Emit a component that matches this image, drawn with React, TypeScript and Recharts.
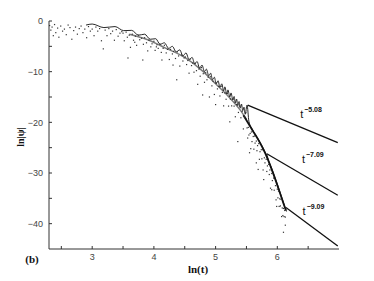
import { ComposedChart, Line, Scatter, XAxis, YAxis } from "recharts";

const xTicks = [2.5, 3, 3.5, 4, 4.5, 5, 5.5, 6, 6.5];
const yTicks = [-40, -35, -30, -25, -20, -15, -10, -5, 0];

// upper edge of ln|psi| with its arches, then the steep core
const envelope: [number, number][] = [
  [2.9, -0.8], [3.0, -0.6], [3.19, -1.3], [3.37, -1.1], [3.51, -1.9], [3.64, -1.85],
  [3.75, -2.8], [3.85, -2.6], [3.94, -3.6], [4.03, -3.5], [4.1, -4.6], [4.17, -4.3],
  [4.24, -5.4], [4.3, -5.0], [4.36, -6.1], [4.42, -5.7], [4.47, -6.9], [4.52, -6.3],
  [4.57, -7.6], [4.62, -7.2], [4.66, -8.4], [4.7, -8.0], [4.74, -9.3], [4.78, -8.7],
  [4.82, -10.0], [4.85, -9.5], [4.89, -10.8], [4.92, -10.3], [4.95, -11.6], [4.98, -11.1],
  [5.01, -12.4], [5.04, -11.8], [5.07, -13.1], [5.1, -12.4], [5.13, -13.8], [5.15, -13.0],
  [5.18, -14.4], [5.2, -13.6], [5.23, -15.0], [5.25, -14.2], [5.28, -15.6], [5.3, -14.9],
  [5.32, -16.2], [5.34, -15.4], [5.36, -16.7], [5.38, -15.9], [5.4, -17.2], [5.42, -16.4],
  [5.44, -17.7], [5.46, -17.0], [5.48, -18.4], [5.51, -16.6], [5.54, -19.8], [5.6, -21.5],
  [5.7, -23.5], [5.78, -25.3], [5.81, -26.1], [5.83, -26.4], [5.86, -27.6], [5.9, -28.8],
  [6.0, -32.2], [6.08, -35.1], [6.12, -36.6], [6.15, -37.6],
];

// dense band just under the arches
const band: [number, number][] = [
  [3.6, -2.6], [3.9, -3.7], [4.2, -5.4], [4.5, -7.2], [4.8, -10.0], [5.0, -12.4],
  [5.2, -14.8], [5.4, -17.6], [5.5, -19.4],
];

// thick core of the steep decay
const core: [number, number][] = [
  [5.45, -18.6], [5.5, -19.6], [5.6, -21.6], [5.7, -23.6], [5.8, -26.0],
  [5.9, -29.0], [6.0, -32.4], [6.1, -36.0], [6.14, -37.4],
];

// scattered points below the envelope
const cloud: [number, number][] = [
  [2.31, -0.9], [2.33, -1.8], [2.35, -1.2], [2.37, -2.9], [2.39, -0.7], [2.41, -2.3], [2.44, -1.4],
  [2.46, -3.2], [2.49, -1.0], [2.52, -2.0], [2.55, -1.6], [2.58, -2.7], [2.61, -0.8], [2.64, -1.3],
  [2.67, -3.6], [2.7, -1.9], [2.73, -1.2], [2.76, -2.6], [2.79, -1.5], [2.82, -1.0], [2.85, -2.3],
  [2.88, -1.6], [2.91, -3.3], [2.94, -1.1], [2.97, -2.0], [3.0, -1.6], [3.03, -2.9], [3.06, -1.2],
  [3.09, -2.0], [3.12, -1.5], [3.15, -3.9], [3.18, -5.5], [3.21, -1.8], [3.24, -2.9], [3.27, -1.5],
  [3.3, -2.5], [3.33, -2.0], [3.36, -3.8], [3.39, -1.7], [3.42, -3.0], [3.45, -2.4], [3.48, -2.1],
  [3.5, -2.4], [3.52, -3.9], [3.55, -2.2], [3.57, -3.2], [3.58, -7.3], [3.6, -2.8], [3.62, -5.2],
  [3.65, -2.6], [3.67, -3.8], [3.69, -4.2], [3.7, -3.0], [3.72, -4.8], [3.75, -2.8], [3.77, -3.7],
  [3.8, -3.4], [3.82, -7.7], [3.83, -4.6], [3.85, -3.3], [3.88, -4.3], [3.9, -5.9], [3.92, -3.8],
  [3.95, -5.1], [3.97, -4.5], [4.0, -4.0], [4.02, -5.8], [4.04, -5.1], [4.05, -4.7], [4.07, -5.4],
  [4.1, -4.6], [4.12, -6.2], [4.13, -7.7], [4.15, -5.4], [4.17, -4.8], [4.2, -6.3], [4.22, -5.6],
  [4.25, -7.6], [4.27, -5.6], [4.3, -6.5], [4.31, -8.7], [4.32, -6.0], [4.35, -7.4], [4.37, -11.6],
  [4.38, -6.1], [4.4, -6.9], [4.42, -8.9], [4.45, -6.7], [4.47, -7.9], [4.49, -7.3],
  [4.51, -7.1], [4.53, -8.6], [4.55, -7.8], [4.57, -10.3], [4.59, -7.5], [4.61, -8.8], [4.63, -8.3],
  [4.65, -10.1], [4.67, -8.4], [4.69, -9.8], [4.71, -12.5], [4.73, -9.5], [4.75, -10.9], [4.77, -9.2],
  [4.79, -14.6], [4.8, -10.4], [4.82, -12.1], [4.84, -10.2], [4.86, -11.6], [4.88, -11.1],
  [4.9, -15.0], [4.92, -11.0], [4.94, -12.8], [4.96, -11.9], [4.98, -14.5], [5.0, -16.5],
  [5.01, -12.2], [5.03, -13.4], [5.05, -12.9], [5.07, -14.8], [5.09, -12.9], [5.11, -14.1],
  [5.13, -16.75], [5.15, -14.2], [5.17, -15.45], [5.19, -14.3], [5.21, -16.8], [5.23, -19.9],
  [5.24, -15.4], [5.26, -16.75], [5.28, -15.4], [5.3, -16.8], [5.32, -18.9], [5.34, -16.5],
  [5.36, -23.8], [5.37, -18.05], [5.39, -16.8], [5.41, -19.1], [5.43, -17.85], [5.45, -21.3],
  [5.47, -18.95], [5.49, -18.1],
  [5.51, -21.1], [5.52, -23.1], [5.53, -21.0], [5.54, -22.5], [5.55, -26.0], [5.56, -22.2],
  [5.57, -25.2], [5.58, -21.9], [5.59, -23.8], [5.61, -22.8], [5.62, -25.3], [5.63, -22.7],
  [5.64, -24.1], [5.66, -28.0], [5.66, -23.7], [5.67, -25.6], [5.68, -24.6], [5.69, -29.3],
  [5.7, -24.2], [5.71, -27.3], [5.72, -25.8], [5.74, -25.4], [5.75, -27.2], [5.76, -25.4],
  [5.77, -29.4], [5.78, -31.3], [5.79, -27.0], [5.8, -28.0], [5.82, -27.3], [5.83, -29.7],
  [5.84, -28.6], [5.86, -28.3], [5.87, -30.3], [5.88, -29.4], [5.89, -33.0], [5.91, -33.3],
  [5.91, -30.1], [5.92, -31.5], [5.94, -31.0], [5.95, -33.4], [5.97, -32.5], [5.98, -35.3],
  [5.99, -36.6], [6.0, -33.2], [6.01, -34.9], [6.02, -33.6], [6.03, -36.6], [6.04, -35.1],
  [6.05, -36.5], [6.06, -35.2], [6.07, -38.6], [6.08, -36.9], [6.09, -38.4], [6.1, -41.7],
  [6.1, -37.0], [6.11, -38.6], [6.12, -37.4], [6.13, -38.7], [6.13, -40.3],
];

const fit508: [number, number][] = [[5.52, -16.6], [6.98, -24.0]];
const fit709: [number, number][] = [[5.83, -26.2], [6.98, -34.4]];
const fit909: [number, number][] = [[6.14, -36.8], [6.98, -44.4]];

const fitLabels = [
  { x: 6.37, y: -19.1, exp: "−5.08" },
  { x: 6.4, y: -28.1, exp: "−7.09" },
  { x: 6.41, y: -38.2, exp: "−9.09" },
];

const toPts = (arr: [number, number][]) => arr.map(([x, y]) => ({ x, y }));

const axisColor = "#333";
const tickStyle = { fontSize: 9, fill: "#444", fontFamily: "Liberation Sans" };

function XTitle({ viewBox }: any) {
  const { x, y, width } = viewBox;
  return (
    <g fontFamily="Liberation Serif" fontWeight="bold" fontSize={11} fill="#111">
      <text x={x + width / 2 + 4} y={y + 24} textAnchor="middle">ln(t)</text>
      <text x={x - 17} y={y + 14} textAnchor="middle">(b)</text>
    </g>
  );
}

function YTitle({ viewBox }: any) {
  const { x, y, height } = viewBox;
  const cx = x + 24;
  const cy = y + height / 2 + 2;
  return (
    <text
      x={cx}
      y={cy}
      transform={`rotate(-90 ${cx} ${cy})`}
      textAnchor="middle"
      fontFamily="Liberation Serif"
      fontWeight="bold"
      fontSize={10}
      fill="#111"
    >
      ln|ψ|
    </text>
  );
}

const Dot = (p: any) => <rect x={p.cx - 0.6} y={p.cy - 0.6} width={1.2} height={1.2} fill="#333" />;

const PowerLabel = (p: any) => (
  <text x={p.cx} y={p.cy} fontFamily="Liberation Sans" fill="#111" stroke="none">
    <tspan fontSize={11} fill="#111">t</tspan>
    <tspan fontSize={7} fontWeight="bold" fill="#111" dx={1} dy={-6}>{p.payload.exp}</tspan>
  </text>
);

export default function App() {
  return (
    <div style={{ position: "absolute", left: 0, top: 0 }}>
      <ComposedChart width={374} height={281} margin={{ top: 21, right: 35, bottom: 0, left: 0 }}>
        <XAxis
          dataKey="x"
          type="number"
          domain={[2.3, 7]}
          allowDataOverflow
          ticks={xTicks}
          interval={0}
          height={32}
          tickSize={-3}
          tickMargin={8}
          tick={tickStyle}
          tickFormatter={(v: number) => (Number.isInteger(v) ? String(v) : "")}
          axisLine={{ stroke: axisColor }}
          tickLine={{ stroke: axisColor }}
          label={<XTitle />}
        />
        <XAxis
          xAxisId="top"
          orientation="top"
          dataKey="x"
          type="number"
          domain={[2.3, 7]}
          allowDataOverflow
          ticks={xTicks}
          interval={0}
          height={0}
          tickSize={-3}
          tickFormatter={() => ""}
          axisLine={{ stroke: axisColor }}
          tickLine={{ stroke: axisColor }}
        />
        <YAxis
          dataKey="y"
          type="number"
          domain={[-45, 0]}
          allowDataOverflow
          ticks={yTicks}
          interval={0}
          width={49}
          tickSize={-3}
          tickMargin={9}
          tick={tickStyle}
          tickFormatter={(v: number) => (v % 10 === 0 ? (v < 0 ? "−" + Math.abs(v) : "0") : "")}
          axisLine={{ stroke: axisColor }}
          tickLine={{ stroke: axisColor }}
          label={<YTitle />}
        />
        <YAxis
          yAxisId="right"
          orientation="right"
          dataKey="y"
          type="number"
          domain={[-45, 0]}
          allowDataOverflow
          ticks={yTicks}
          interval={0}
          width={0}
          tickSize={-3}
          tickFormatter={() => ""}
          axisLine={{ stroke: axisColor }}
          tickLine={{ stroke: axisColor }}
        />
        <Scatter data={toPts(cloud)} shape={Dot} isAnimationActive={false} />
        <Line data={toPts(band)} dataKey="y" type="monotone" stroke="#444" strokeWidth={1.5} strokeOpacity={0.7} dot={false} isAnimationActive={false} />
        <Line data={toPts(core)} dataKey="y" type="monotone" stroke="#111" strokeWidth={1.8} dot={false} isAnimationActive={false} />
        <Line data={toPts(envelope)} dataKey="y" type="monotone" stroke="#111" strokeWidth={0.9} dot={false} isAnimationActive={false} />
        <Line data={toPts(fit508)} dataKey="y" stroke="#111" strokeWidth={1.3} dot={false} isAnimationActive={false} />
        <Line data={toPts(fit709)} dataKey="y" stroke="#111" strokeWidth={1.3} dot={false} isAnimationActive={false} />
        <Line data={toPts(fit909)} dataKey="y" stroke="#111" strokeWidth={1.3} dot={false} isAnimationActive={false} />
        <Scatter data={fitLabels} shape={PowerLabel} isAnimationActive={false} />
      </ComposedChart>
    </div>
  );
}
